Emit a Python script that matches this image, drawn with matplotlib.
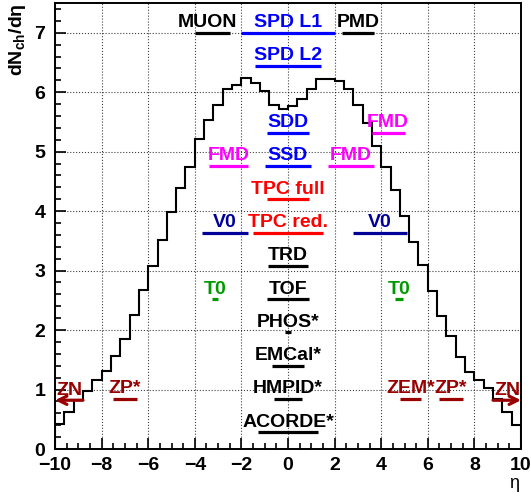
import numpy as np
import matplotlib
matplotlib.use('Agg')
import matplotlib.pyplot as plt
from matplotlib.ticker import MultipleLocator

plt.rcParams['font.family'] = ['Liberation Sans', 'DejaVu Sans']
plt.rcParams['mathtext.fontset'] = 'custom'
plt.rcParams['mathtext.rm'] = 'Liberation Sans:bold'
plt.rcParams['mathtext.it'] = 'Liberation Sans:bold'

# dN_ch/deta per bin (50 bins, width 0.4, from -10 to 10)
eta_edges = np.linspace(-10, 10, 51)
dndeta = [0.42, 0.62, 0.82, 0.98, 1.16, 1.31, 1.57, 1.85, 2.26, 2.67,
          3.08, 3.52, 3.99, 4.39, 4.75, 5.22, 5.53, 5.79, 6.06, 6.12,
          6.24, 6.16, 6.02, 5.78, 5.72, 5.76, 5.89, 6.05, 6.23, 6.23,
          6.18, 6.06, 5.78, 5.48, 5.10, 4.75, 4.36, 3.91, 3.48, 3.09,
          2.65, 2.24, 1.90, 1.55, 1.30, 1.16, 1.02, 0.84, 0.62, 0.40]

# detector acceptances
det_names = ['MUON', 'SPD L1', 'PMD', 'SPD L2', 'SDD', 'FMD', 'SSD', 'FMD', 'FMD',
             'TPC full', 'V0', 'TPC red.', 'V0', 'TRD', 'T0', 'TOF', 'T0',
             'PHOS*', 'EMCal*', 'HMPID*', 'ZP*', 'ZEM*', 'ZP*', 'ACORDE*']
det_eta_min = [-4.0, -2.0, 2.3, -1.4, -0.9, 3.6, -0.97, -3.4, 1.7,
               -0.9, -3.7, -1.5, 2.8, -0.84, -3.28, -0.9, 4.61,
               -0.12, -0.7, -0.6, -7.5, 4.8, 6.5, -1.3]
det_eta_max = [-2.5, 2.0, 3.7, 1.4, 0.9, 5.0, 0.97, -1.7, 3.7,
               0.9, -1.7, 1.5, 5.1, 0.84, -3.0, 0.9, 4.92,
               0.12, 0.7, 0.6, -6.5, 5.7, 7.5, 1.3]
det_row = [0, 0, 0, 1, 3, 3, 4, 4, 4, 5, 6, 6, 6, 7, 8, 8, 8, 9, 10, 11, 11, 11, 11, 12]
det_colors = ['black', '#0000ff', 'black', '#0000ff', '#0000ff', '#ff00ff', '#0000ff',
              '#ff00ff', '#ff00ff', '#ff0000', '#000099', '#ff0000', '#000099',
              'black', '#009900', 'black', '#009900', 'black', 'black', 'black',
              '#990000', '#990000', '#990000', 'black']
label_shift = {'MUON': -0.2}

# zero-degree neutron calorimeters (drawn as arrows)
zn_from = [-8.8, 8.8]
zn_to = [-10.0, 10.0]
zn_row = 11

row_top = 7.0
row_step = 0.56

fig = plt.figure(figsize=(5.31, 4.98), dpi=100)
ax = fig.add_axes([55 / 531, 49 / 498, 466 / 531, 446 / 498])

ax.stairs(dndeta, eta_edges, color='black', lw=1.5, zorder=3)

txt_kw = dict(ha='center', va='baseline', fontsize=14, fontweight='bold',
              textcoords='offset points', xytext=(0, 4), zorder=5)

for name, lo, hi, row, col in zip(det_names, det_eta_min, det_eta_max, det_row, det_colors):
    y = row_top - row * row_step
    ax.plot([lo, hi], [y, y], color=col, lw=2.3, solid_capstyle='butt', zorder=4)
    xc = 0.5 * (lo + hi) + label_shift.get(name, 0)
    ax.annotate(name, xy=(xc, y), color=col, **txt_kw)

for a, b in zip(zn_from, zn_to):
    y = row_top - zn_row * row_step - 0.02
    ax.annotate('', xy=(b, y), xytext=(a, y),
                arrowprops=dict(arrowstyle='->', color='#990000', lw=2.3,
                                mutation_scale=15, shrinkA=0, shrinkB=0), zorder=4)
    ax.annotate('ZN', xy=(0.5 * (a + b), y), color='#990000', **txt_kw)

ax.set_xlim(-10, 10)
ax.set_ylim(0, 7.5)
ax.xaxis.set_major_locator(MultipleLocator(2))
ax.xaxis.set_minor_locator(MultipleLocator(0.5))
ax.yaxis.set_major_locator(MultipleLocator(1))
ax.yaxis.set_minor_locator(MultipleLocator(0.2))
ax.tick_params(which='both', direction='in', top=False, right=False, width=1.2)
ax.tick_params(which='major', length=8, labelsize=14)
ax.tick_params(which='minor', length=4)
ax.tick_params(axis='x', which='major', pad=5.5)
ax.tick_params(axis='y', which='major', pad=7)
for lab in ax.get_xticklabels() + ax.get_yticklabels():
    lab.set_fontweight('bold')
for sp in ax.spines.values():
    sp.set_linewidth(1.4)

ax.grid(True, which='major', linestyle=':', color='black', lw=0.8, alpha=0.75)
ax.set_axisbelow(True)

fig.text(17 / 531, 1 - 3 / 498, r'dN$_{\mathrm{ch}}$/dη', rotation=90,
         ha='center', va='top', fontsize=14, fontweight='bold')
fig.text(514 / 531, 1 - 483 / 498, 'η', ha='center', va='center', fontsize=13)

plt.savefig('out.png', dpi=100)
